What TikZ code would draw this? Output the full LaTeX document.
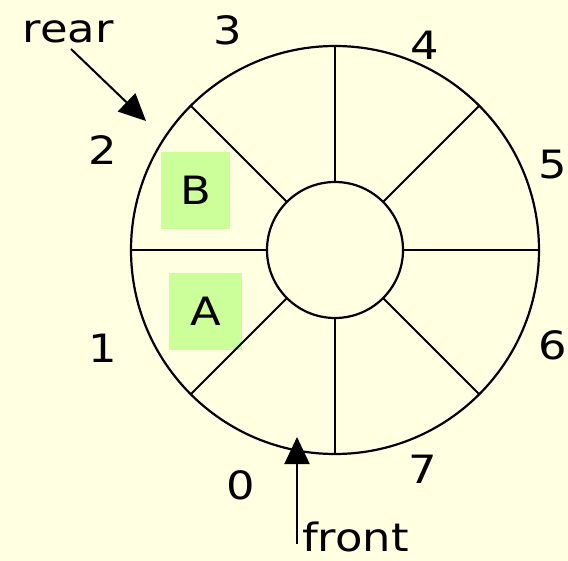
\documentclass[tikz,border=0pt]{standalone}
\usepackage{fontspec}
\setmainfont{DejaVu Sans}[FakeStretch=1.15]
\usetikzlibrary{arrows.meta,calc}
\definecolor{bgyellow}{RGB}{255,255,226}
\definecolor{cellgreen}{RGB}{204,255,153}
\begin{document}
\begin{tikzpicture}[x=1pt,y=-1pt,
  lbl/.style={font=\fontsize{39}{44}\selectfont, inner sep=0pt},
  ring/.style={line width=2.2pt, draw=black},
  spoke/.style={line width=1.8pt},
  ptr/.style={line width=2pt, -{Triangle[length=27pt,width=25pt]}},
  cell/.style={fill=cellgreen, inner sep=0pt, font=\fontsize{39}{44}\selectfont}]
\useasboundingbox (0,0) rectangle (568,561);
\clip (0,0) rectangle (568,561);
\fill[bgyellow] (0,0) rectangle (568,561);
\coordinate (c) at (335,250);
% green cells
\node[cell, minimum width=69pt, minimum height=77pt] (cb) at (195.5,190.5) {B};
\node[cell, minimum width=73pt, minimum height=77pt] (ca) at (205.5,311.5) {A};
% spokes
\foreach \a in {0,45,...,315} {
  \draw[spoke] ($(c)+(\a:68)$) -- ($(c)+(\a:204)$);
}
\node[ring, circle, minimum size=408pt, inner sep=0pt] (outer) at (c) {};
\node[ring, circle, minimum size=136pt, inner sep=0pt, fill=bgyellow] (inner) at (c) {};
% index labels
\node[lbl] (n0) at (241,485) {0};
\node[lbl] (n1) at (103,348) {1};
\node[lbl] (n2) at (103,150) {2};
\node[lbl] (n3) at (228,30) {3};
\node[lbl] (n4) at (425,45) {4};
\node[lbl, anchor=east] (n5) at (567,165) {5};
\node[lbl, anchor=east] (n6) at (567,345) {6};
\node[lbl] (n7) at (423,469) {7};
% pointers
\node[lbl, anchor=base] (rear) at (68,43) {rear};
\coordinate (rtip) at (146,121);
\draw[ptr] (71,49) -- (rtip);
\node[lbl, anchor=base west] (front) at (302,551) {front};
\coordinate (fstart) at (297,544);
\coordinate (ftip) at (297,437);
\draw[ptr] (fstart) -- (ftip);
\end{tikzpicture}
\end{document}
